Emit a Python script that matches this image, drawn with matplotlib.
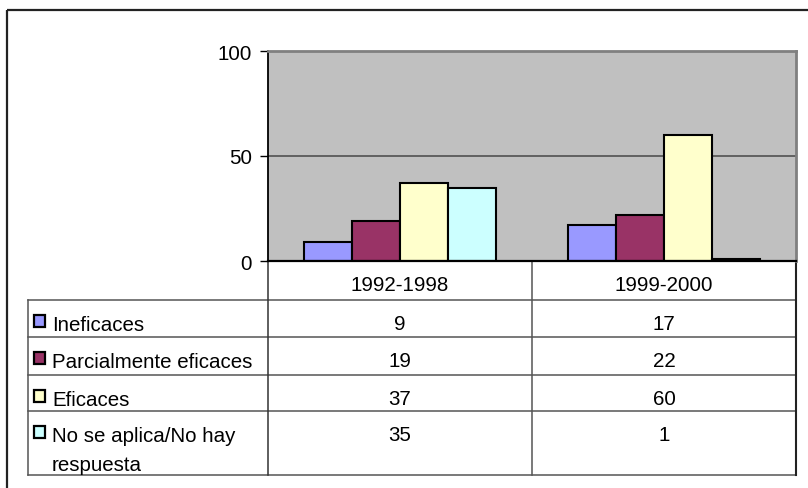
import matplotlib
matplotlib.use("Agg")
import matplotlib.pyplot as plt
from matplotlib.patches import Rectangle

plt.rcParams['font.family'] = ['Liberation Sans', 'DejaVu Sans']

# ---- data ----
periods = ["1992-1998", "1999-2000"]
series_names = ["Ineficaces", "Parcialmente eficaces", "Eficaces",
                "No se aplica/No hay\nrespuesta"]
ineficaces = [9, 17]
parcialmente_eficaces = [19, 22]
eficaces = [37, 60]
no_aplica = [35, 1]
series_values = [ineficaces, parcialmente_eficaces, eficaces, no_aplica]
series_colors = ["#9999FF", "#993366", "#FFFFCC", "#CCFFFF"]
y_ticks = [0, 50, 100]

W, H = 808, 489
DPI = 100
fig = plt.figure(figsize=(W / DPI, H / DPI), dpi=DPI, facecolor="white")

# pixel layout helpers
PL, PR, PT, PB = 268, 796, 52, 262          # plot area
def fx(px):
    return px / W
def fy(py):
    return 1 - py / H

FS = 14.8
TABLE_LINE = "#555555"

# ---- overlay for frame and data table (pixel coordinates) ----
ov = fig.add_axes([0, 0, 1, 1], zorder=0)
ov.set_xlim(0, W)
ov.set_ylim(H, 0)
ov.axis("off")

# chart frame
ov.plot([7, W + 5], [11, 11], color="#222222", lw=1.6, solid_capstyle="butt")
ov.plot([7, 7], [11, H + 5], color="#222222", lw=1.6, solid_capstyle="butt")

# ---- bar chart ----
ax = fig.add_axes([fx(PL), fy(PB), fx(PR) - fx(PL), fy(PT) - fy(PB)], zorder=2)
ax.set_facecolor("#C0C0C0")
n_series = len(series_values)
bar_w = 1 / (n_series + 1.5)
centers = [i + 0.5 for i in range(len(periods))]
for s, (vals, col) in enumerate(zip(series_values, series_colors)):
    xs = [c + (s - (n_series - 1) / 2) * bar_w for c in centers]
    ax.bar(xs, vals, width=bar_w, color=col, edgecolor="black",
           linewidth=1.5, zorder=3)

ax.set_xlim(0, len(periods))
ax.set_ylim(y_ticks[0], y_ticks[-1])
ax.set_yticks(y_ticks)
ax.set_yticklabels([str(t) for t in y_ticks], fontsize=FS)
ax.set_xticks([])
ax.tick_params(axis="y", length=5.5, width=1.0, color="black", pad=6)
ax.yaxis.grid(True, color="#5a5a5a", lw=1.3, zorder=1)
ax.set_axisbelow(True)
ax.spines["left"].set_color("black")
ax.spines["left"].set_linewidth(1.3)
ax.spines["bottom"].set_color("black")
ax.spines["bottom"].set_linewidth(1.6)
ax.spines["bottom"].set_zorder(4)
for sp in ("top", "right"):
    ax.spines[sp].set_color("#808080")
    ax.spines[sp].set_linewidth(2.0)

# ---- data table ----
TL = 28
col_div = (PL + PR) / 2
header_top, header_bot = PB, 301
row_tops = [301, 338, 376, 412]
table_bot = 476

lw_t = 1.1
# horizontal lines
for y in [header_bot] + row_tops[1:] + [table_bot]:
    ov.plot([TL, PR], [y, y], color=TABLE_LINE, lw=lw_t)
# vertical lines
ov.plot([TL, TL], [header_bot, table_bot], color=TABLE_LINE, lw=lw_t)
ov.plot([PL, PL], [PB, table_bot], color="#333333", lw=lw_t)
ov.plot([col_div, col_div], [PB, table_bot], color=TABLE_LINE, lw=lw_t)
ov.plot([PR, PR], [PB, table_bot], color="#222222", lw=1.5)

col_centers = [PL + (PR - PL) * c / len(periods) for c in centers]
for cx, lab in zip(col_centers, periods):
    ov.text(cx, header_top + 29, lab, ha="center", va="baseline", fontsize=FS)

for r, (name, vals, col) in enumerate(zip(series_names, series_values, series_colors)):
    top = row_tops[r]
    ov.add_patch(Rectangle((34, top + 15), 11, 12, facecolor=col,
                           edgecolor="black", lw=1.6))
    lines = name.split("\n")
    for k, ln in enumerate(lines):
        ov.text(52, top + 30 + 29 * k, ln, ha="left", va="baseline", fontsize=FS)
    for cx, v in zip(col_centers, vals):
        ov.text(cx, top + 29, str(v), ha="center", va="baseline", fontsize=FS)

fig.savefig("out.png", dpi=DPI, facecolor="white")
